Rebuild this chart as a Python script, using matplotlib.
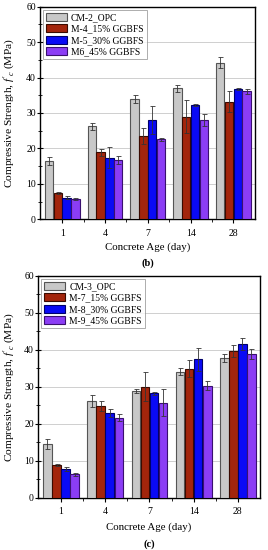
import numpy as np
import matplotlib
matplotlib.use("Agg")
import matplotlib.pyplot as plt
from matplotlib.ticker import MultipleLocator

plt.rcParams["font.family"] = ["Liberation Serif", "DejaVu Serif"]
plt.rcParams["mathtext.fontset"] = "custom"
plt.rcParams["mathtext.it"] = "Liberation Serif:italic"
plt.rcParams["mathtext.rm"] = "Liberation Serif"

# ------------------------------------------------------------
# data
# ------------------------------------------------------------
ages = ["1", "4", "7", "14", "28"]

labels_b = ["CM-2_OPC", "M-4_15% GGBFS", "M-5_30% GGBFS", "M6_45% GGBFS"]
vals_b = [
    [16.5, 26.3, 34.0, 37.0, 44.2],
    [7.3, 18.9, 23.5, 29.0, 33.2],
    [6.1, 17.4, 28.0, 32.3, 36.7],
    [5.8, 16.7, 22.6, 28.0, 36.1],
]
errs_b = [
    [1.2, 1.0, 1.2, 1.0, 1.5],
    [0.3, 1.0, 2.2, 4.6, 3.0],
    [0.5, 3.0, 4.0, 0.3, 0.3],
    [0.3, 1.2, 0.4, 1.7, 0.8],
]

labels_c = ["CM-3_OPC", "M-7_15% GGBFS", "M-8_30% GGBFS", "M-9_45% GGBFS"]
vals_c = [
    [14.5, 26.2, 28.9, 34.1, 37.8],
    [8.8, 24.8, 30.0, 34.9, 39.6],
    [7.8, 22.8, 28.2, 37.4, 41.5],
    [6.3, 21.6, 25.7, 30.3, 38.8],
]
errs_c = [
    [1.3, 1.6, 0.6, 1.0, 1.0],
    [0.3, 1.4, 3.9, 2.3, 1.6],
    [0.6, 1.1, 0.4, 3.1, 1.7],
    [0.4, 1.0, 3.6, 1.2, 1.4],
]

colors = ["#C8C8C8", "#A3250C", "#0A0AF5", "#8B3DF5"]
edges = ["#555555", "#3A0A00", "#00006A", "#3A1070"]

fig = plt.figure(figsize=(2.68, 5.5), dpi=100)
ax_b = fig.add_axes([0.149, 0.6013, 0.802, 0.3865])
ax_c = fig.add_axes([0.142, 0.0951, 0.828, 0.4036])

x = np.arange(len(ages))
w = 0.205


def panel(ax, labels, vals, errs, tag, tag_y, xl_y, yl_x):
    for i in range(4):
        ax.bar(x + (i - 1.5) * w, vals[i], w * 0.95, yerr=errs[i],
               color=colors[i], edgecolor=edges[i], linewidth=0.8,
               label=labels[i], zorder=3,
               error_kw=dict(ecolor="#333333", elinewidth=0.6, capsize=1.8,
                             capthick=0.6, zorder=4))
    ax.set_xlim(-0.52, 4.5)
    ax.set_ylim(0, 60)
    ax.set_xticks(x)
    ax.set_xticklabels(ages, fontsize=7)
    ax.set_xticks(x[:-1] + 0.5, minor=True)
    ax.yaxis.set_major_locator(MultipleLocator(10))
    ax.yaxis.set_minor_locator(MultipleLocator(5))
    ax.tick_params(axis="y", which="major", direction="inout", length=4,
                   width=0.8, labelsize=7, pad=1)
    ax.tick_params(axis="y", which="minor", direction="inout", length=2.5,
                   width=0.6)
    ax.tick_params(axis="x", which="major", direction="out", length=3,
                   width=0.8, pad=4)
    ax.tick_params(axis="x", which="minor", direction="out", length=2,
                   width=0.6)
    ax.grid(axis="y", color="#CFCFCF", linewidth=0.7, zorder=0)
    for s in ax.spines.values():
        s.set_linewidth(1.0)
    ax.set_ylabel("Compressive Strength, $f'_c$ (MPa)", fontsize=8.2)
    ax.yaxis.set_label_coords(yl_x, 0.5)
    ax.set_xlabel("Concrete Age (day)", fontsize=7.8)
    ax.xaxis.set_label_coords(0.5, xl_y)
    ax.text(0.5, tag_y, tag, transform=ax.transAxes, ha="center",
            va="center", fontsize=7.5, fontweight="bold")
    leg = ax.legend(loc="upper left", fontsize=6.9, frameon=True,
                    fancybox=False, edgecolor="#888888", borderpad=0.3,
                    handlelength=2.2, handleheight=0.9, handletextpad=0.4,
                    labelspacing=0.22, borderaxespad=0.35)
    leg.get_frame().set_linewidth(0.6)


panel(ax_b, labels_b, vals_b, errs_b, "(b)", -0.205, -0.11, -0.10)
panel(ax_c, labels_c, vals_c, errs_c, "(c)", -0.21, -0.113, -0.09)

plt.savefig("out.png", dpi=100)
